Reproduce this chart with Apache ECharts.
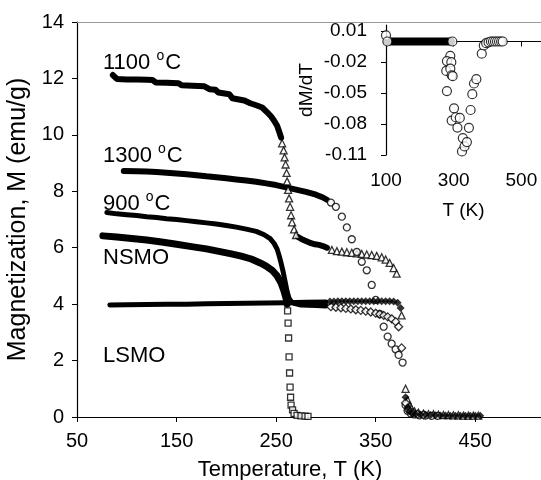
<!DOCTYPE html>
<html><head><meta charset="utf-8">
<script src="https://cdn.jsdelivr.net/npm/echarts@6/dist/echarts.min.js"></script>
<style>html,body{margin:0;padding:0;background:#fff}#c{width:541px;height:480px}</style>
</head><body><div id="c"></div>
<script>
// ---- tick labels ----
const xTicks = [50, 150, 250, 350, 450];
const insetXTicks = [100, 300, 500];
const insetYTicks = [-0.11, -0.08, -0.05, -0.02, 0.01];

// ---- 1100 C (triangles) ----
const band1100 = [[86,12.12],[90,11.98],[100,11.96],[110,11.96],[120,11.95],[126,11.94],[129,11.86],[140,11.85],[152,11.83],[155,11.76],[166,11.74],[178,11.72],[183,11.62],[189,11.6],[192,11.5],[203,11.44],[206,11.3],[218,11.22],[224,11.12],[230,11.05],[236,10.97],[241,10.8],[245,10.65],[248,10.5],[251,10.32],[253,10.12],[255,9.9]];
const band1100b = [[272,6.38],[277,6.28],[281,6.22],[285,6.16],[289,6.12],[293,6.1],[297,6.06],[301,6.0]];
const pts1100 = [[256,9.7],[257.5,9.45],[258.5,9.2],[259.5,8.95],[260.5,8.65],[261,8.35],[262,8.05],[263,7.75],[264,7.45],[265,7.15],[266,6.9],[268,6.65],[270,6.45],[306,5.92],[311,5.88],[316,5.86],[321,5.84],[326,5.82],[331,5.8],[336,5.78],[341,5.76],[346,5.74],[351,5.71],[356,5.66],[360,5.58],[364,5.46],[368,5.28],[371,5.08],[376,3.6],[380,1.0],[382,0.6],[384,0.4],[386,0.3],[389,0.2],[393,0.15],[398,0.12],[403,0.1],[408,0.1],[413,0.08],[418,0.07],[423,0.07],[428,0.06],[433,0.06],[438,0.05],[443,0.05],[448,0.05],[453,0.05]];

// ---- 1300 C (circles) ----
const band1300 = [[97,8.72],[110,8.71],[120,8.7],[130,8.68],[140,8.66],[150,8.63],[160,8.6],[170,8.57],[180,8.53],[190,8.5],[200,8.46],[210,8.42],[220,8.38],[230,8.34],[240,8.28],[250,8.22],[260,8.14],[270,8.06],[280,7.98],[290,7.88],[297,7.78],[301,7.7]];
const pts1300 = [[305,7.6],[310,7.45],[316,7.1],[321,6.72],[326,6.3],[331,5.85],[336,5.5],[341,5.2],[346,4.68],[350,4.15],[354,3.65],[358,3.2],[362,2.85],[366,2.6],[370,2.4],[373,2.2],[377,1.93],[380,0.42],[382,0.22],[385,0.13],[389,0.09],[394,0.06],[400,0.05],[406,0.04],[412,0.04]];

// ---- 900 C (open diamonds) ----
const band900 = [[80,7.25],[90,7.2],[100,7.17],[110,7.14],[120,7.1],[130,7.07],[140,7.03],[150,7.0],[160,6.96],[170,6.92],[180,6.88],[190,6.84],[200,6.79],[210,6.73],[220,6.66],[230,6.58],[238,6.46],[244,6.32],[248,6.15],[251,5.95],[253,5.72],[255,5.45],[257,5.15],[259,4.8],[261,4.45],[263,4.2],[266,4.05],[275,3.97],[290,3.95],[300,3.93]];
const pts900 = [[305,3.91],[310,3.89],[315,3.87],[320,3.85],[325,3.83],[330,3.8],[335,3.78],[340,3.75],[345,3.72],[350,3.68],[354,3.64],[358,3.6],[362,3.55],[366,3.48],[370,3.38],[373,3.2],[376,2.45],[380,0.5],[383,0.25],[387,0.15],[392,0.1],[398,0.08]];

// ---- NSMO (open squares) ----
const bandNSMO = [[76,6.42],[90,6.38],[105,6.33],[120,6.27],[135,6.2],[150,6.12],[165,6.04],[180,5.96],[195,5.85],[205,5.78],[215,5.7],[225,5.6],[234,5.46],[240,5.35],[246,5.2],[251,5.0],[255,4.75],[258,4.45],[260,4.2],[261,4.0]];
const ptsNSMO = [[261.5,3.76],[262,3.33],[262.5,2.8],[263,2.13],[263.5,1.56],[264,1.06],[264.5,0.7],[265,0.42],[266.5,0.25],[268,0.13],[271,0.06],[275,0.04],[279,0.03],[282,0.02]];

// ---- LSMO (filled diamonds) ----
const bandLSMO = [[83,3.97],[100,3.98],[120,3.99],[140,4.0],[160,4.0],[180,4.01],[200,4.02],[220,4.03],[240,4.04],[260,4.05],[280,4.07],[300,4.08]];
const ptsLSMO = [[304,4.09],[308,4.09],[312,4.1],[316,4.1],[320,4.1],[324,4.1],[328,4.1],[332,4.1],[336,4.1],[340,4.1],[344,4.1],[348,4.1],[352,4.1],[356,4.1],[360,4.1],[364,4.1],[368,4.09],[372,4.05],[375,3.86],[380,0.7],[382,0.35],[384,0.2],[387,0.12],[390,0.1],[395,0.09],[400,0.08],[405,0.07],[410,0.06],[415,0.05],[420,0.05],[425,0.04],[430,0.04],[435,0.04],[440,0.04],[445,0.04],[450,0.04],[455,0.04]];

// ---- inset dM/dT ----
const bandInset = [[104,0.0],[292,0.0]];
const ptsInset = [[100,0.006],[104,0.0],[296,0.0],[290,-0.014],[280,-0.019],[293,-0.020],[278,-0.0285],[290,-0.0263],[294,-0.0327],[297,-0.0336],[280,-0.048],[301,-0.0648],[294,-0.0766],[306,-0.0734],[318,-0.0741],[311,-0.0834],[327,-0.0936],[324.5,-0.1065],[332,-0.1017],[339,-0.0975],[345,-0.0837],[350,-0.0664],[355,-0.051],[360,-0.0407],[367,-0.0365],[383,-0.0118],[389,-0.0038],[396,-0.0016],[403,-0.0008],[410,0],[416,0],[422,0],[428,0],[434,0],[440,0],[445,0]];

const F = 'Liberation Sans, Arial, sans-serif';
const chart = echarts.init(document.getElementById('c'), null, {renderer: 'canvas'});
const open = {color: '#fff', borderColor: '#000', borderWidth: 1.3};
function band(data, w, xi, yi) {
  return {type: 'line', data: data, xAxisIndex: xi || 0, yAxisIndex: yi || 0, symbol: 'none', smooth: false,
    lineStyle: {color: '#000', width: w, cap: 'round', join: 'round'}, silent: true, z: 2};
}
function pts(data, sym, size, style, xi, yi) {
  return {type: 'scatter', data: data, xAxisIndex: xi || 0, yAxisIndex: yi || 0, symbol: sym, symbolSize: size,
    itemStyle: style, silent: true, z: 3};
}
function lbl(x, y, main, deg) {
  return {type: 'text', left: x, top: y, z: 10,
    style: {text: deg ? main + ' {s|o}C' : main, font: '22px ' + F, fill: '#000',
      rich: {s: {fontSize: 14, fontFamily: F, padding: [0, 1, 13, 0]}}}};
}
chart.setOption({
  animation: false,
  grid: [
    {left: 77, top: 22, right: 0, bottom: 63, containLabel: false, outerBoundsMode: 'none'},
    {left: 386, top: 25, right: 0, height: 130, containLabel: false, outerBoundsMode: 'none'}
  ],
  xAxis: [
    {type: 'value', gridIndex: 0, min: 50, max: 516,
      name: 'Temperature, T (K)', nameLocation: 'middle', nameGap: 42,
      nameTextStyle: {fontFamily: F, fontSize: 22, color: '#000', padding: [0, 38, 0, 0]},
      axisLine: {lineStyle: {color: '#000', width: 1.2}},
      axisTick: {customValues: xTicks, length: 5, lineStyle: {color: '#000'}},
      axisLabel: {customValues: xTicks, fontFamily: F, fontSize: 20, color: '#000', margin: 14},
      splitLine: {show: false}},
    {type: 'value', gridIndex: 0, position: 'top', min: 50, max: 516,
      axisLine: {lineStyle: {color: '#999', width: 1.2}}, axisTick: {show: false}, axisLabel: {show: false}, splitLine: {show: false}},
    {type: 'value', gridIndex: 1, min: 100, max: 558,
      name: 'T (K)', nameLocation: 'middle', nameGap: 46,
      nameTextStyle: {fontFamily: F, fontSize: 19, color: '#000'},
      axisLine: {lineStyle: {color: '#000', width: 1.2}},
      axisTick: {customValues: insetXTicks, length: 5, lineStyle: {color: '#000'}},
      axisLabel: {customValues: insetXTicks, fontFamily: F, fontSize: 19, color: '#000', margin: 16},
      splitLine: {show: false}}
  ],
  yAxis: [
    {type: 'value', gridIndex: 0, min: 0, max: 14, interval: 2,
      name: 'Magnetization, M (emu/g)', nameLocation: 'middle', nameGap: 31,
      nameTextStyle: {fontFamily: F, fontSize: 25, color: '#000'},
      axisLine: {show: true, lineStyle: {color: '#000', width: 1.2}},
      axisTick: {show: true, length: 5, lineStyle: {color: '#000'}},
      axisLabel: {fontFamily: F, fontSize: 20, color: '#000', margin: 13},
      splitLine: {show: false}},
    {type: 'value', gridIndex: 1, min: -0.11, max: 0.016,
      name: 'dM/dT', nameLocation: 'middle', nameGap: 70,
      nameTextStyle: {fontFamily: F, fontSize: 19, color: '#000'},
      axisLine: {show: true, lineStyle: {color: '#000', width: 1.2}},
      axisTick: {show: true, customValues: insetYTicks, length: 5, lineStyle: {color: '#000'}},
      axisLabel: {customValues: insetYTicks, fontFamily: F, fontSize: 19, color: '#000', margin: 19,
        formatter: v => v.toFixed(2)},
      splitLine: {show: false}}
  ],
  graphic: [
    lbl(103, 49, '1100', true),
    lbl(103, 142, '1300', true),
    lbl(103, 190, '900', true),
    lbl(103, 247, 'NSMO', false),
    lbl(103, 345, 'LSMO', false)
  ],
  series: [
    band(band1100, 6), band(band1100b, 6), band(band1300, 6), band(band900, 5), band(bandNSMO, 7), band(bandLSMO, 5),
    pts(pts1100, 'triangle', 7, open),
    pts(pts1300, 'circle', 7, open),
    pts(pts900, 'diamond', 8, open),
    pts(ptsNSMO, 'rect', 6, open),
    pts(ptsLSMO, 'diamond', 8, {color: '#000'}),
    band(bandInset, 8, 2, 1),
    pts(ptsInset, 'circle', 9, {color: '#fff', borderColor: '#000', borderWidth: 1.2}, 2, 1)
  ]
});
</script></body></html>
